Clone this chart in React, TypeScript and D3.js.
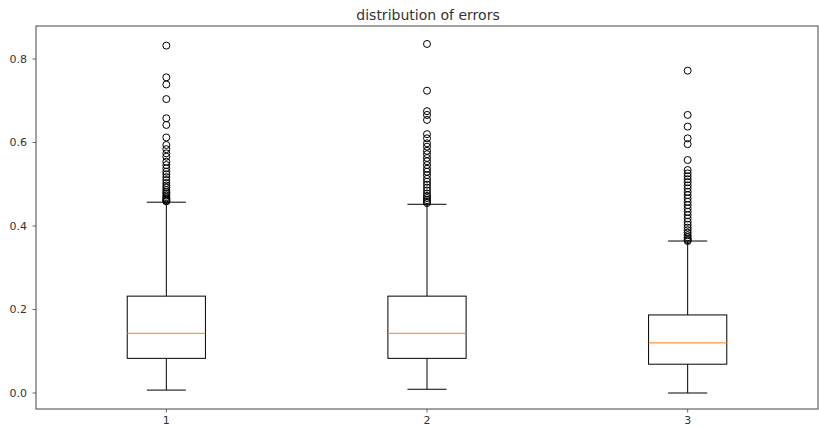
import React from "react";
import * as d3 from "d3";

// box statistics
const groups = ["1", "2", "3"];
const whiskerLow = [0.007, 0.009, 0.0];
const q1 = [0.083, 0.083, 0.069];
const median = [0.143, 0.143, 0.12];
const q3 = [0.232, 0.232, 0.187];
const whiskerHigh = [0.457, 0.452, 0.364];

const fliers1 = [
  0.832, 0.756, 0.739, 0.704, 0.658, 0.642, 0.612, 0.594, 0.584, 0.574, 0.566,
  0.554, 0.546, 0.538, 0.53, 0.524, 0.517, 0.51, 0.503, 0.497, 0.492, 0.486,
  0.481, 0.477, 0.473, 0.469, 0.466, 0.463, 0.461, 0.459,
];
const fliers2 = [
  0.836, 0.724, 0.675, 0.666, 0.654, 0.62, 0.61, 0.598, 0.59, 0.58, 0.572,
  0.563, 0.555, 0.546, 0.537, 0.53, 0.522, 0.513, 0.506, 0.499, 0.492, 0.485,
  0.478, 0.472, 0.467, 0.462, 0.458, 0.455,
];
const fliers3 = [
  0.772, 0.666, 0.638, 0.61, 0.596, 0.558, 0.534, 0.526, 0.519, 0.512, 0.505,
  0.497, 0.49, 0.482, 0.474, 0.466, 0.458, 0.45, 0.442, 0.434, 0.426, 0.418,
  0.41, 0.403, 0.396, 0.39, 0.384, 0.378, 0.373, 0.369, 0.366, 0.364,
];
const fliers = [fliers1, fliers2, fliers3];

const yTicks = [0.0, 0.2, 0.4, 0.6, 0.8];

export default function App() {
  const width = 819;
  const height = 428;
  const margin = { top: 26, right: 1, bottom: 19, left: 36 };
  const x0 = margin.left;
  const x1 = width - margin.right;
  const y0 = height - margin.bottom;
  const y1 = margin.top;

  const x = d3.scaleLinear().domain([0.5, 3.5]).range([x0, x1]);
  const y = d3.scaleLinear().domain([-0.0383, 0.879]).range([y0, y1]);

  const boxHalf = x(1.15) - x(1);
  const capHalf = boxHalf / 2;
  const font = "DejaVu Sans, sans-serif";
  const textColor = "#333";

  return (
    <svg
      width={width}
      height={height}
      style={{ position: "absolute", left: 0, top: 0 }}
      fontFamily={font}
    >
      <rect x={0} y={0} width={width} height={height} fill="#fff" />
      <text x={(x0 + x1) / 2 + 1} y={20} textAnchor="middle" fontSize={14} fill={textColor}>
        distribution of errors
      </text>

      {groups.map((g, i) => {
        const cx = x(i + 1);
        return (
          <g key={g} fill="none" stroke="#000" strokeWidth={1}>
            <line x1={cx} x2={cx} y1={y(q1[i])} y2={y(whiskerLow[i])} />
            <line x1={cx} x2={cx} y1={y(q3[i])} y2={y(whiskerHigh[i])} />
            <line x1={cx - capHalf} x2={cx + capHalf} y1={y(whiskerLow[i])} y2={y(whiskerLow[i])} />
            <line x1={cx - capHalf} x2={cx + capHalf} y1={y(whiskerHigh[i])} y2={y(whiskerHigh[i])} />
            <rect
              x={cx - boxHalf}
              y={y(q3[i])}
              width={boxHalf * 2}
              height={y(q1[i]) - y(q3[i])}
            />
            <line
              x1={cx - boxHalf}
              x2={cx + boxHalf}
              y1={y(median[i])}
              y2={y(median[i])}
              stroke="#ff7f0e"
            />
            {fliers[i].map((v, k) => (
              <circle key={k} cx={cx} cy={y(v)} r={3.5} />
            ))}
          </g>
        );
      })}

      {/* spines */}
      <rect x={x0} y={y1} width={x1 - x0} height={y0 - y1} fill="none" stroke="#444" strokeWidth={1} />

      {yTicks.map((t) => (
        <g key={t}>
          <line x1={x0 - 3.5} x2={x0} y1={y(t)} y2={y(t)} stroke="#444" strokeWidth={0.8} />
          <text x={x0 - 9} y={y(t)} dy="0.35em" textAnchor="end" fontSize={11} fill={textColor}>
            {t.toFixed(1)}
          </text>
        </g>
      ))}
      {groups.map((g, i) => (
        <g key={g}>
          <line x1={x(i + 1)} x2={x(i + 1)} y1={y0} y2={y0 + 3.5} stroke="#444" strokeWidth={0.8} />
          <text x={x(i + 1)} y={y0 + 15} textAnchor="middle" fontSize={11} fill={textColor}>
            {g}
          </text>
        </g>
      ))}
    </svg>
  );
}
